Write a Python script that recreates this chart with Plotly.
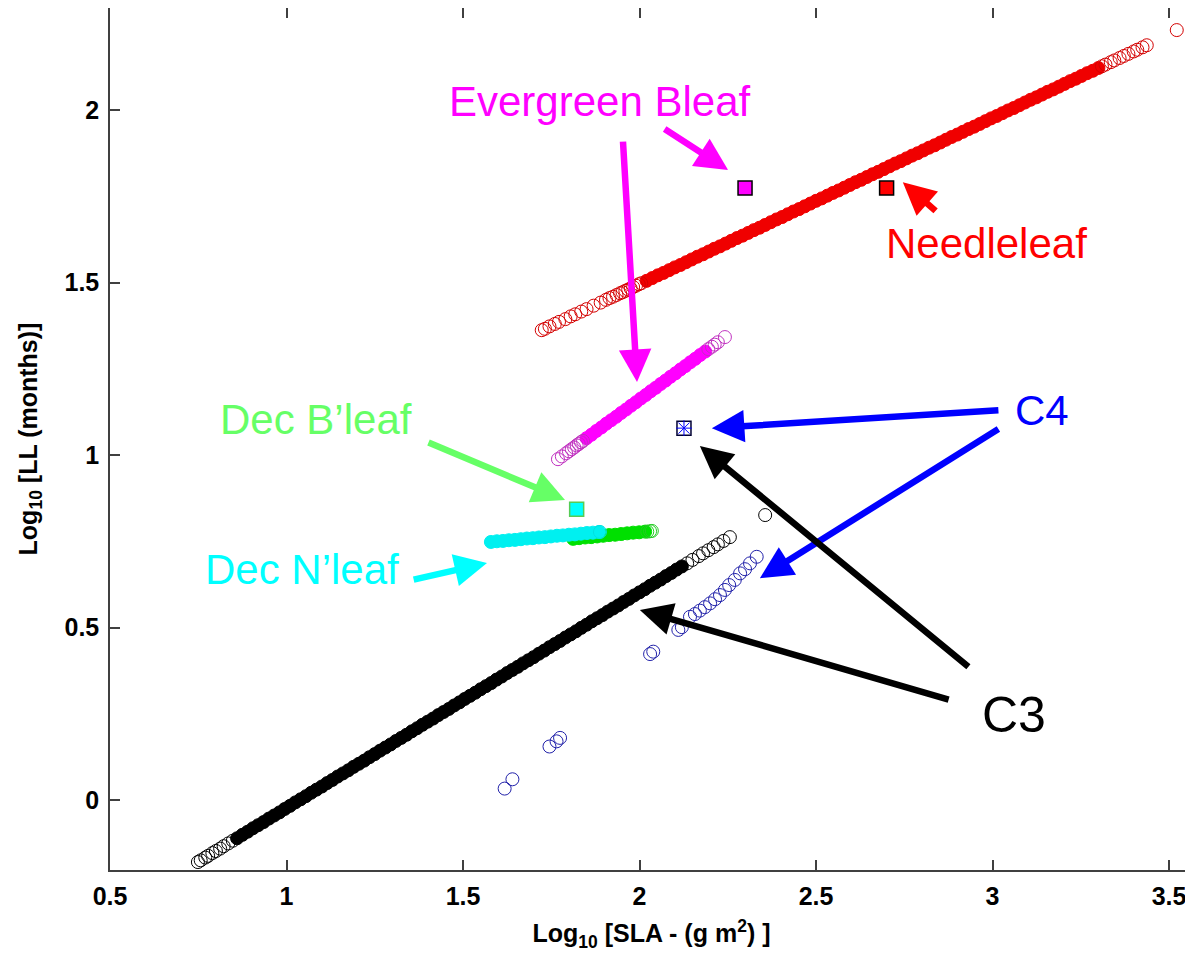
import plotly.graph_objects as go

# ---------------- data ----------------
# C3 (black)
c3_band_x = [0.860, 0.875, 0.890, 0.905, 0.920, 0.935, 0.950, 0.965, 0.980, 0.995,
             1.010, 1.025, 1.040, 1.055, 1.070, 1.085, 1.100, 1.115, 1.130, 1.145,
             1.160, 1.175, 1.190, 1.205, 1.220, 1.235, 1.250, 1.265, 1.280, 1.295,
             1.310, 1.325, 1.340, 1.355, 1.370, 1.385, 1.400, 1.415, 1.430, 1.445,
             1.460, 1.475, 1.490, 1.505, 1.520, 1.535, 1.550, 1.565, 1.580, 1.595,
             1.610, 1.625, 1.640, 1.655, 1.670, 1.685, 1.700, 1.715, 1.730, 1.745,
             1.760, 1.775, 1.790, 1.805, 1.820, 1.835, 1.850, 1.865, 1.880, 1.895,
             1.910, 1.925, 1.940, 1.955, 1.970, 1.985, 2.000, 2.015, 2.030, 2.045,
             2.060, 2.075, 2.090, 2.105, 2.120]
c3_band_y = [-0.111, -0.101, -0.092, -0.082, -0.073, -0.064, -0.054, -0.045, -0.036, -0.026,
             -0.017, -0.007, 0.002, 0.011, 0.021, 0.030, 0.039, 0.049, 0.058, 0.068,
             0.077, 0.086, 0.096, 0.105, 0.114, 0.124, 0.133, 0.143, 0.152, 0.161,
             0.171, 0.180, 0.189, 0.199, 0.208, 0.218, 0.227, 0.236, 0.246, 0.255,
             0.264, 0.274, 0.283, 0.293, 0.302, 0.311, 0.321, 0.330, 0.339, 0.349,
             0.358, 0.368, 0.377, 0.386, 0.396, 0.405, 0.414, 0.424, 0.433, 0.443,
             0.452, 0.461, 0.471, 0.480, 0.489, 0.499, 0.508, 0.518, 0.527, 0.536,
             0.546, 0.555, 0.564, 0.574, 0.583, 0.593, 0.602, 0.611, 0.621, 0.630,
             0.639, 0.649, 0.658, 0.668, 0.677]
c3_ring_x = [0.749, 0.757, 0.770, 0.778, 0.790, 0.800, 0.812, 0.822, 0.835, 0.848,
             2.135, 2.150, 2.168, 2.180, 2.195, 2.210, 2.222, 2.238, 2.256, 2.356]
c3_ring_y = [-0.180, -0.175, -0.167, -0.162, -0.154, -0.148, -0.141, -0.134, -0.126, -0.118,
             0.686, 0.696, 0.707, 0.715, 0.724, 0.733, 0.741, 0.751, 0.762, 0.826]

# C4 (blue)
c4_x = [1.618, 1.640, 1.745, 1.765, 1.775, 2.030, 2.039, 2.110, 2.120, 2.143, 2.157,
        2.171, 2.185, 2.200, 2.214, 2.228, 2.242, 2.254, 2.270, 2.285, 2.299, 2.313, 2.332]
c4_y = [0.033, 0.060, 0.155, 0.170, 0.180, 0.423, 0.430, 0.493, 0.501, 0.531, 0.539,
        0.549, 0.559, 0.570, 0.582, 0.594, 0.609, 0.623, 0.638, 0.657, 0.669, 0.686, 0.705]

# Needleleaf (red)
nl_band_x = [2.020, 2.036, 2.052, 2.068, 2.084, 2.100, 2.116, 2.132, 2.148, 2.164,
             2.180, 2.196, 2.212, 2.228, 2.244, 2.260, 2.276, 2.292, 2.308, 2.324,
             2.340, 2.356, 2.372, 2.388, 2.404, 2.420, 2.436, 2.452, 2.468, 2.484,
             2.500, 2.516, 2.532, 2.548, 2.564, 2.580, 2.596, 2.612, 2.628, 2.644,
             2.660, 2.676, 2.692, 2.708, 2.724, 2.740, 2.756, 2.772, 2.788, 2.804,
             2.820, 2.836, 2.852, 2.868, 2.884, 2.900, 2.916, 2.932, 2.948, 2.964,
             2.980, 2.996, 3.012, 3.028, 3.044, 3.060, 3.076, 3.092, 3.108, 3.124,
             3.140, 3.156, 3.172, 3.188, 3.204, 3.220, 3.236, 3.252, 3.268, 3.284, 3.300]
nl_band_y = [1.505, 1.513, 1.521, 1.528, 1.536, 1.544, 1.551, 1.559, 1.567, 1.575,
             1.582, 1.590, 1.598, 1.605, 1.613, 1.621, 1.629, 1.636, 1.644, 1.652,
             1.659, 1.667, 1.675, 1.683, 1.690, 1.698, 1.706, 1.713, 1.721, 1.729,
             1.737, 1.744, 1.752, 1.760, 1.767, 1.775, 1.783, 1.791, 1.798, 1.806,
             1.814, 1.821, 1.829, 1.837, 1.845, 1.852, 1.860, 1.868, 1.875, 1.883,
             1.891, 1.898, 1.906, 1.914, 1.922, 1.929, 1.937, 1.945, 1.952, 1.960,
             1.968, 1.976, 1.983, 1.991, 1.999, 2.006, 2.014, 2.022, 2.030, 2.037,
             2.045, 2.053, 2.060, 2.068, 2.076, 2.084, 2.091, 2.099, 2.107, 2.114, 2.122]
nl_ring_x = [1.723, 1.732, 1.745, 1.760, 1.772, 1.790, 1.805, 1.818, 1.835, 1.850,
             1.870, 1.890, 1.905, 1.915, 1.925, 1.935, 1.945, 1.952, 1.960, 1.968,
             1.975, 1.982, 1.990, 1.998, 2.005,
             3.310, 3.320, 3.335, 3.345, 3.360, 3.372, 3.385, 3.400, 3.410, 3.425, 3.437, 3.522]
nl_ring_y = [1.362, 1.366, 1.373, 1.380, 1.386, 1.394, 1.402, 1.408, 1.416, 1.423,
             1.433, 1.442, 1.450, 1.455, 1.459, 1.464, 1.469, 1.472, 1.476, 1.480,
             1.483, 1.487, 1.491, 1.495, 1.498,
             2.127, 2.132, 2.139, 2.144, 2.151, 2.157, 2.163, 2.170, 2.175, 2.182, 2.188, 2.232]

# Evergreen broadleaf (magenta)
eb_band_x = [1.850, 1.864, 1.878, 1.892, 1.906, 1.920, 1.934, 1.948, 1.962, 1.976,
             1.990, 2.004, 2.018, 2.032, 2.046, 2.060, 2.074, 2.088, 2.102, 2.116,
             2.130, 2.144, 2.158, 2.172, 2.186]
eb_band_y = [1.049, 1.059, 1.070, 1.080, 1.091, 1.101, 1.111, 1.122, 1.132, 1.143,
             1.153, 1.164, 1.174, 1.185, 1.195, 1.206, 1.216, 1.227, 1.237, 1.248,
             1.258, 1.269, 1.279, 1.290, 1.300]
eb_ring_x = [1.769, 1.780, 1.792, 1.800, 1.808, 1.815, 1.822, 1.828, 1.834, 1.840,
             2.195, 2.205, 2.213, 2.222, 2.242]
eb_ring_y = [0.988, 0.996, 1.005, 1.011, 1.017, 1.022, 1.028, 1.032, 1.037, 1.041,
             1.307, 1.314, 1.320, 1.327, 1.342]

# Deciduous broadleaf (green)
db_band_x = [1.812, 1.829, 1.846, 1.863, 1.880, 1.897, 1.914, 1.931, 1.948, 1.965,
             1.982, 1.999, 2.016]
db_band_y = [0.757, 0.759, 0.761, 0.762, 0.764, 0.766, 0.768, 0.769, 0.771, 0.773,
             0.775, 0.776, 0.778]
db_ring_x = [2.022, 2.030, 2.035]
db_ring_y = [0.778, 0.779, 0.780]

# Deciduous needleleaf (cyan)
dn_band_x = [1.579, 1.596, 1.613, 1.630, 1.647, 1.664, 1.681, 1.698, 1.715, 1.732,
             1.749, 1.766, 1.783, 1.800, 1.817, 1.834, 1.851, 1.868, 1.885]
dn_band_y = [0.748, 0.750, 0.751, 0.753, 0.754, 0.756, 0.758, 0.759, 0.761, 0.762,
             0.764, 0.766, 0.767, 0.769, 0.770, 0.772, 0.774, 0.775, 0.777]
dn_ring_x = [1.888]
dn_ring_y = [0.777]

# Reference points (squares)
ref_names = ["Needleleaf", "Evergreen Bleaf", "Dec B'leaf", "C3/C4"]
ref_x = [2.700, 2.299, 1.822, 2.126]
ref_y = [1.774, 1.774, 0.843, 1.078]

# Labels: text, centre x, centre y
label_text = ["Evergreen Bleaf", "Needleleaf", "C4", "C3", "Dec B\u2019leaf", "Dec N\u2019leaf"]
label_x = [1.888, 2.982, 3.140, 3.060, 1.084, 1.044]
label_y = [2.026, 1.614, 1.130, 0.246, 1.104, 0.667]

# Arrows: tail (ax, ay) -> tip (x, y)
arrow_tail_x = [2.067, 1.953, 2.843, 3.021, 3.021, 2.936, 2.880, 1.398, 1.356]
arrow_tail_y = [1.948, 1.913, 1.704, 1.130, 1.078, 0.383, 0.290, 1.038, 0.638]
arrow_tip_x = [2.251, 1.993, 2.746, 2.205, 2.341, 2.171, 2.001, 1.789, 1.568]
arrow_tip_y = [1.826, 1.212, 1.791, 1.078, 0.643, 1.026, 0.551, 0.870, 0.687]

# ---------------- styling ----------------
MAG = "#ff00ff"
RED = "#ff0000"
BLUE = "#0000ff"
LGREEN = "#66ff66"
CYAN = "#00ffff"
FONT = "Arial, Liberation Sans, sans-serif"

fig = go.Figure()


def band(x, y, color):
    fig.add_trace(go.Scatter(x=x, y=y, mode="markers", hoverinfo="skip",
                             marker=dict(symbol="circle", size=13, color=color,
                                         line=dict(color=color, width=1))))


def rings(x, y, color):
    fig.add_trace(go.Scatter(x=x, y=y, mode="markers", hoverinfo="skip",
                             marker=dict(symbol="circle-open", size=13, color=color,
                                         line=dict(color=color, width=1))))


band(nl_band_x, nl_band_y, "#f00000")
rings(nl_ring_x, nl_ring_y, "#d40000")
band(eb_band_x, eb_band_y, "#ff00ff")
rings(eb_ring_x, eb_ring_y, "#c030c0")
band(c3_band_x, c3_band_y, "#000000")
rings(c3_ring_x, c3_ring_y, "#000000")
rings(c4_x, c4_y, "#2222aa")
band(db_band_x, db_band_y, "#00e000")
rings(db_ring_x, db_ring_y, "#22cc22")
band(dn_band_x, dn_band_y, "#00f0f0")
rings(dn_ring_x, dn_ring_y, "#00e0e0")

# squares
sq_fill = [RED, MAG, CYAN, "rgba(0,0,0,0)"]
sq_line = ["#000000", "#000000", "#55cc55", "#000033"]
for i in range(len(ref_x)):
    fig.add_trace(go.Scatter(x=[ref_x[i]], y=[ref_y[i]], mode="markers",
                             name=ref_names[i], hoverinfo="skip",
                             marker=dict(symbol="square", size=14, color=sq_fill[i],
                                         line=dict(color=sq_line[i], width=1.5))))
fig.add_trace(go.Scatter(x=[ref_x[3]], y=[ref_y[3]], mode="markers", hoverinfo="skip",
                         marker=dict(symbol="asterisk-open", size=13, color=BLUE,
                                     line=dict(color=BLUE, width=1))))

# arrows
arrow_colors = [MAG, MAG, RED, BLUE, BLUE, "#000000", "#000000", LGREEN, CYAN]
for i in range(len(arrow_tip_x)):
    fig.add_annotation(x=arrow_tip_x[i], y=arrow_tip_y[i], ax=arrow_tail_x[i], ay=arrow_tail_y[i],
                       xref="x", yref="y", axref="x", ayref="y", text="", showarrow=True,
                       arrowhead=2, arrowsize=1.0, arrowwidth=6.5, arrowcolor=arrow_colors[i],
                       standoff=0)

label_colors = [MAG, RED, BLUE, "#000000", LGREEN, CYAN]
label_sizes = [42, 42, 42, 50, 42, 42]
for i in range(len(label_text)):
    fig.add_annotation(x=label_x[i], y=label_y[i], text=label_text[i], showarrow=False,
                       xref="x", yref="y", xanchor="center", yanchor="middle",
                       font=dict(family=FONT, size=label_sizes[i], color=label_colors[i]))

axis_common = dict(showgrid=False, zeroline=False, showline=True, linecolor="#404040",
                   linewidth=1.5, ticks="inside", ticklen=10, tickcolor="#404040",
                   tickwidth=1.5, automargin=False,
                   tickfont=dict(family=FONT, size=25, color="#000000", weight="bold"))

# the page body adds an 8 px offset, so the figure is 8 px smaller than the window
fig.update_layout(
    width=1185, height=950,
    margin=dict(l=102, r=0, t=0, b=88, autoexpand=False),
    paper_bgcolor="white", plot_bgcolor="white",
    showlegend=False,
    xaxis=dict(range=[0.5, 3.568], tickvals=[0.5, 1, 1.5, 2, 2.5, 3, 3.5],
               ticktext=["0.5", "1", "1.5", "2", "2.5", "3", "3.5"], mirror="ticks",
               ticklabelstandoff=3,
               title=dict(text="Log<sub>10</sub> [SLA - (g m<sup>2</sup>) ]", standoff=16,
                          font=dict(family=FONT, size=25, color="#000000", weight="bold")),
               **axis_common),
    yaxis=dict(range=[-0.203, 2.296], tickvals=[0, 0.5, 1, 1.5, 2],
               ticktext=["0", "0.5", "1", "1.5", "2"],
               ticklabelstandoff=4,
               title=dict(text="Log<sub>10</sub> [LL (months)]", standoff=20,
                          font=dict(family=FONT, size=25, color="#000000", weight="bold")),
               **axis_common),
)

fig.write_html("out.html")
